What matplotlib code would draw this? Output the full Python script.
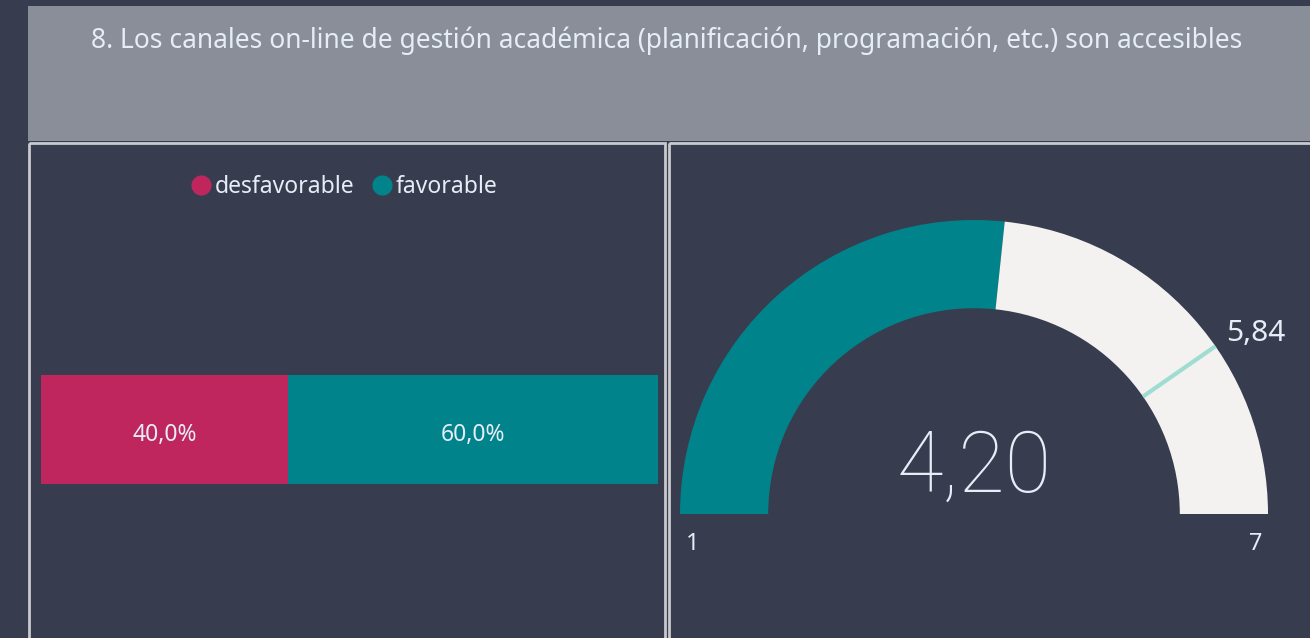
"""Survey item dashboard: favourable/unfavourable split and mean-score gauge."""

import matplotlib

matplotlib.use("Agg")
import matplotlib.pyplot as plt
import numpy as np
from matplotlib.patches import Rectangle, Wedge

# --- data -----------------------------------------------------------------
title = "8. Los canales on-line de gestión académica (planificación, programación, etc.) son accesibles"
categories = ["desfavorable", "favorable"]
shares = [40.0, 60.0]  # percent
gauge_min = 1
gauge_max = 7
gauge_value = 4.20
gauge_target = 5.84

# --- style ----------------------------------------------------------------
BG = "#373d4f"
TITLE_BG = "#8a8e98"
BORDER = "#c9cacd"
TEXT = "#e6edf7"
COLORS = ["#c0265e", "#00838a"]
GAUGE_EMPTY = "#f3f2f0"
TARGET = "#9fdcd2"
W, H = 1310, 638

plt.rcParams["font.family"] = ["Noto Sans", "DejaVu Sans"]


def comma(v, nd=2):
    return f"{v:.{nd}f}".replace(".", ",")


def px_axes(fig, x0, y0, x1, y1):
    """Axes placed with pixel coordinates measured from the top-left corner."""
    return fig.add_axes([x0 / W, 1 - y1 / H, (x1 - x0) / W, (y1 - y0) / H])


fig = plt.figure(figsize=(W / 100, H / 100), dpi=100, facecolor=BG)

# layout: title band and two framed panels
bg = fig.add_axes([0, 0, 1, 1])
bg.set_xlim(0, W)
bg.set_ylim(H, 0)
bg.axis("off")
bg.add_patch(Rectangle((28, 6), W - 28, 135, color=TITLE_BG, lw=0))
bg.add_patch(Rectangle((29, 143), 636, 500, fill=False, ec=BORDER, lw=2))
bg.add_patch(Rectangle((669, 143), 645, 500, fill=False, ec=BORDER, lw=2))
bg.text(667, 41, title, color=TEXT, fontsize=19, ha="center", va="center")

# legend
leg_x = [201, 382]
for x, name, c in zip(leg_x, categories, COLORS):
    bg.scatter([x], [185], s=210, color=c, lw=0)
    bg.text(x + 14, 187, name, color=TEXT, fontsize=16.5, ha="left", va="center")

# stacked 100% bar
ax_bar = px_axes(fig, 41, 375, 658, 484)
ax_bar.set_facecolor("none")
left = 0.0
for share, c in zip(shares, COLORS):
    ax_bar.barh(0, share, left=left, height=1.0, color=c, lw=0)
    ax_bar.text(left + share / 2, -0.055, comma(share, 1) + "%", color=TEXT,
                fontsize=16.5, ha="center", va="center")
    left += share
ax_bar.set_xlim(0, sum(shares))
ax_bar.set_ylim(-0.5, 0.5)
ax_bar.axis("off")

# gauge: centre at (974, 514) px, outer radius 294 px
cx, cy, R = 974, 514, 294
ax_g = px_axes(fig, 671, 145, W, H)
ax_g.set_facecolor("none")
ax_g.set_xlim((671 - cx) / R, (W - cx) / R)
ax_g.set_ylim(-(H - cy) / R, (cy - 145) / R)
ax_g.axis("off")


def angle(v):
    return 180.0 - 180.0 * (v - gauge_min) / (gauge_max - gauge_min)


ring = 0.30
a_val = angle(gauge_value)
ax_g.add_patch(Wedge((0, 0), 1, a_val, 180, width=ring, color=COLORS[1], lw=0))
ax_g.add_patch(Wedge((0, 0), 1, 0, a_val, width=ring, color=GAUGE_EMPTY, lw=0))
a_t = np.deg2rad(angle(gauge_target))
ax_g.plot([(1 - ring) * np.cos(a_t), np.cos(a_t)],
          [(1 - ring) * np.sin(a_t), np.sin(a_t)], color=TARGET, lw=3,
          solid_capstyle="butt")
ax_g.text(np.cos(a_t) + 0.035, np.sin(a_t) - 0.005, comma(gauge_target), color=TEXT,
          fontsize=21.5, ha="left", va="bottom")
ax_g.text(-1 + 0.02, -0.06, str(gauge_min), color=TEXT, fontsize=17, ha="left", va="top")
ax_g.text(1 - 0.02, -0.06, str(gauge_max), color=TEXT, fontsize=17, ha="right", va="top")
ax_g.text(0, 0.155, comma(gauge_value), color=TEXT, fontsize=61, ha="center",
          va="center", family=["Roboto", "DejaVu Sans"], fontweight="light")

fig.savefig("out.png", dpi=100, facecolor=BG)
